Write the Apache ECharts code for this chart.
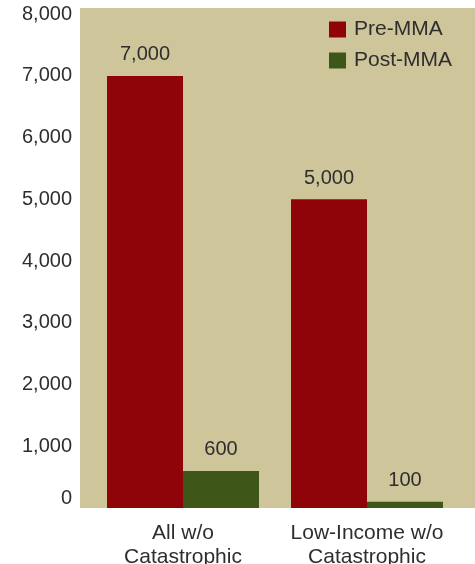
<!DOCTYPE html>
<html>
<head>
<meta charset="utf-8">
<script src="https://cdn.jsdelivr.net/npm/echarts@6/dist/echarts.min.js"></script>
<style>
  html, body { margin: 0; padding: 0; background: #fff; }
  #chart { width: 475px; height: 564px; }
</style>
</head>
<body>
<div id="chart"></div>
<script>
// data
var categories = ['All w/o\nCatastrophic', 'Low-Income w/o\nCatastrophic'];
var preMMA = [7000, 5000];
var postMMA = [600, 100];
var yTicks = [0, 1000, 2000, 3000, 4000, 5000, 6000, 7000, 8000];

var FONT = '"Liberation Sans", Arial, Helvetica, sans-serif';
var TEXT = '#2e2e2e';

function fmt(v) { return Number(v).toLocaleString('en-US'); }

var myChart = echarts.init(document.getElementById('chart'));

var option = {
    animation: false,
    textStyle: { fontFamily: FONT },
    graphic: [
        {
            type: 'rect',
            z: -10,
            silent: true,
            shape: { x: 80, y: 8, width: 395, height: 500 },
            style: { fill: '#cfc59b' }
        }
    ],
    grid: { left: 91, right: 16, top: 8, bottom: 56, containLabel: false, outerBoundsMode: 'none' },
    legend: {
        orient: 'vertical',
        left: 329,
        top: 19,
        padding: 0,
        itemWidth: 17,
        itemHeight: 16,
        itemGap: 10,
        icon: 'rect',
        selectedMode: false,
        textStyle: { fontSize: 21, color: TEXT, fontFamily: FONT, padding: [0, 0, 0, 3] },
        data: ['Pre-MMA', 'Post-MMA']
    },
    xAxis: {
        type: 'category',
        data: categories,
        axisLine: { show: false },
        axisTick: { show: false },
        axisLabel: {
            interval: 0,
            hideOverlap: false,
            fontSize: 21,
            lineHeight: 24,
            color: TEXT,
            margin: 13,
            fontFamily: FONT
        }
    },
    yAxis: {
        type: 'value',
        min: 0,
        max: 8100,
        interval: 1000,
        splitLine: { show: false },
        axisLine: { show: false },
        axisTick: { show: false },
        axisLabel: {
            fontSize: 20,
            color: TEXT,
            margin: 19,
            fontFamily: FONT,
            verticalAlignMinLabel: 'bottom',
            formatter: function (v) { return yTicks.indexOf(v) >= 0 ? fmt(v) : ''; }
        }
    },
    series: [
        {
            name: 'Pre-MMA',
            type: 'bar',
            barWidth: 76,
            barGap: 0,
            itemStyle: { color: '#8e0409' },
            label: {
                show: true, position: 'top', distance: 11,
                fontSize: 20, color: TEXT, fontFamily: FONT,
                formatter: function (p) { return fmt(p.value); }
            },
            data: preMMA
        },
        {
            name: 'Post-MMA',
            type: 'bar',
            barWidth: 76,
            barGap: 0,
            itemStyle: { color: '#3e5617' },
            label: {
                show: true, position: 'top', distance: 11,
                fontSize: 20, color: TEXT, fontFamily: FONT,
                formatter: function (p) { return fmt(p.value); }
            },
            data: postMMA
        }
    ]
};

myChart.setOption(option);
</script>
</body>
</html>
